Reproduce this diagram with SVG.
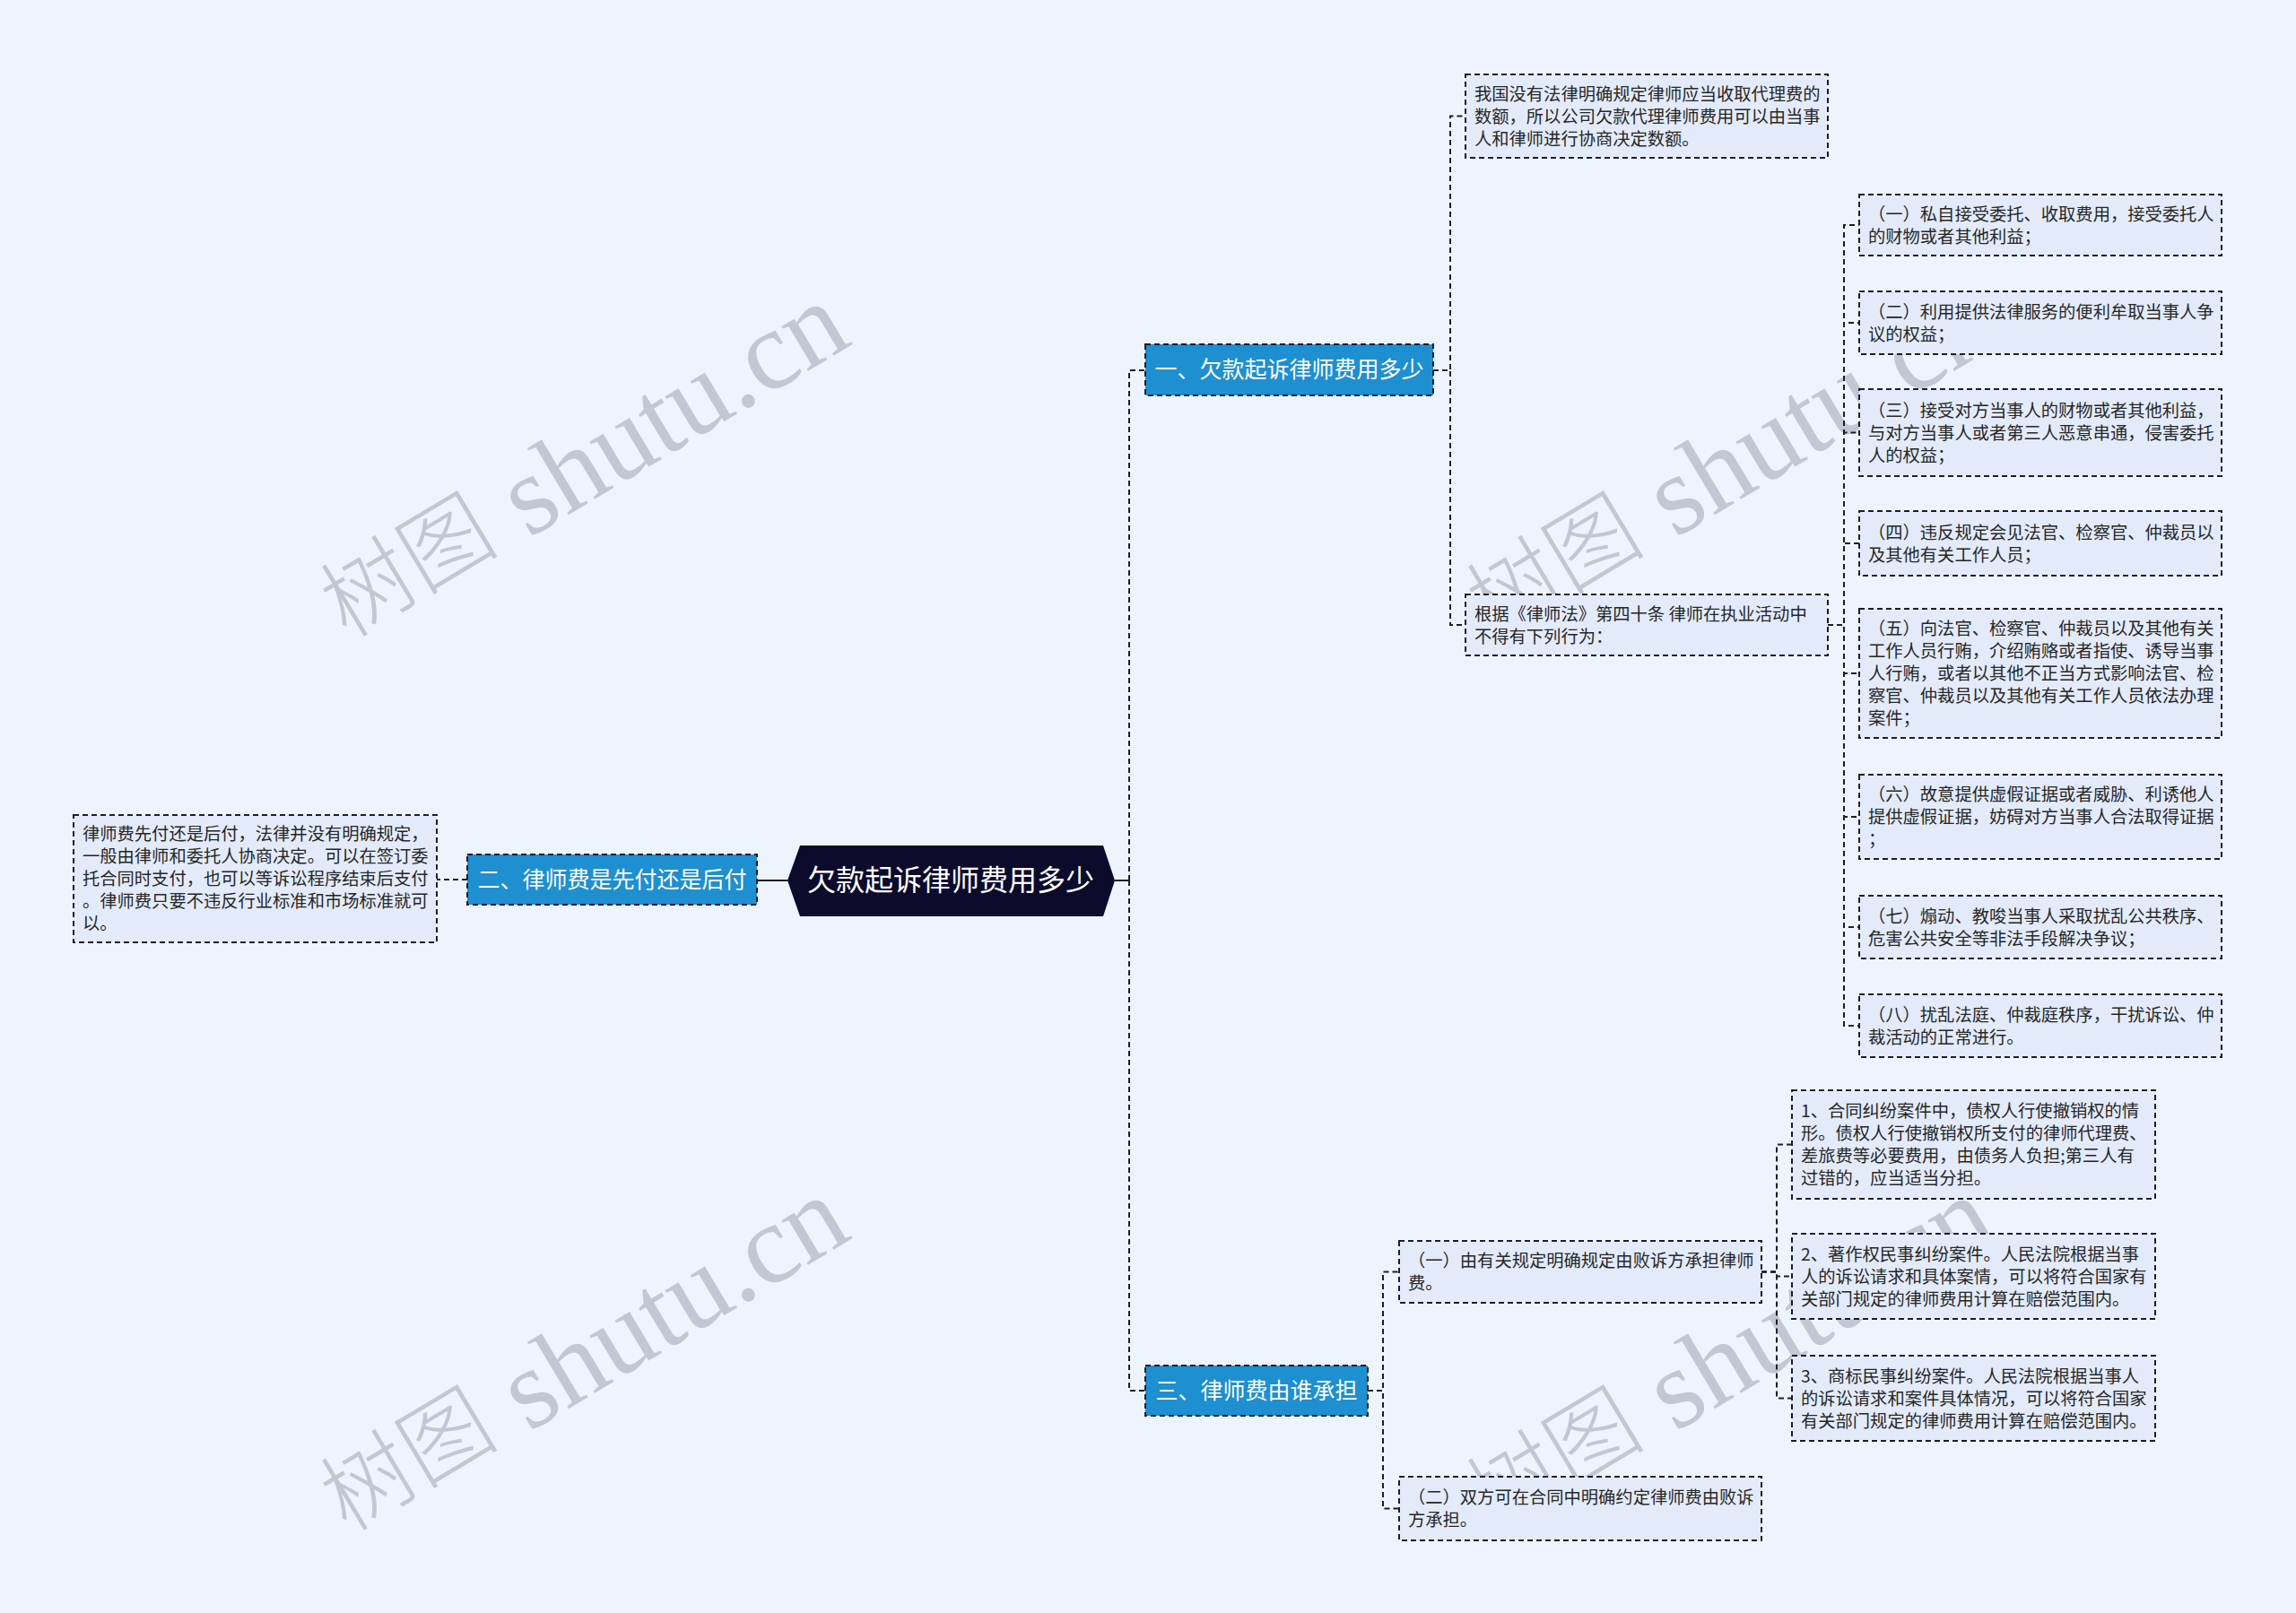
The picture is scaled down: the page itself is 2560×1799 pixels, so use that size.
<svg xmlns="http://www.w3.org/2000/svg" width="2560" height="1799" viewBox="0 0 2560 1799">
<style>
.bg{fill:#eef4fe}
.box{fill:#e3ebfa;stroke:#1c1c2c;stroke-width:2;stroke-dasharray:6 4}
.l1{fill:#1e8fd1;stroke:#1c1c2c;stroke-width:2;stroke-dasharray:6 4}
.t{font-family:"Noto Sans CJK SC","Noto Sans",sans-serif;font-size:19.3px;fill:#262626}
.t1{font-family:"Noto Sans CJK SC","Noto Sans",sans-serif;font-size:25px;fill:#ffffff;text-anchor:middle}
.t0{font-family:"Noto Sans CJK SC","Noto Sans",sans-serif;font-size:32px;fill:#ffffff;text-anchor:middle}
.c{fill:none;stroke:#1c1c2c;stroke-width:2;stroke-dasharray:6 4}
.cs{fill:none;stroke:#1c1c2c;stroke-width:2}
.wm{font-family:"Liberation Serif","Noto Sans CJK SC",serif;font-size:126px;fill:#c2c7d2}
.wmc{font-size:100px;font-weight:300}
</style>
<rect class="bg" x="0" y="0" width="2560" height="1799"/>
<g id="watermarks">
<text class="wm" transform="translate(650,515) rotate(-31)" text-anchor="middle" dominant-baseline="central"><tspan class="wmc">树图</tspan> shutu.cn</text>
<text class="wm" transform="translate(1928,515) rotate(-31)" text-anchor="middle" dominant-baseline="central"><tspan class="wmc">树图</tspan> shutu.cn</text>
<text class="wm" transform="translate(650,1512) rotate(-31)" text-anchor="middle" dominant-baseline="central"><tspan class="wmc">树图</tspan> shutu.cn</text>
<text class="wm" transform="translate(1928,1512) rotate(-31)" text-anchor="middle" dominant-baseline="central"><tspan class="wmc">树图</tspan> shutu.cn</text>
</g>
<g id="connectors">
<path class="cs" d="M1243,982 H1259"/>
<path class="cs" d="M878,982 H844"/>
<path class="c" d="M1259,982 V413 H1277"/>
<path class="c" d="M1259,982 V1551 H1277"/>
<path class="c" d="M521,981 H487"/>
<path class="c" d="M1598,413 H1617 V129.5 H1634"/>
<path class="c" d="M1598,413 H1617 V697 H1634"/>
<path class="c" d="M2038,697 H2056 V251 H2073"/>
<path class="c" d="M2038,697 H2056 V360 H2073"/>
<path class="c" d="M2038,697 H2056 V482.5 H2073"/>
<path class="c" d="M2038,697 H2056 V606 H2073"/>
<path class="c" d="M2038,697 H2056 V751 H2073"/>
<path class="c" d="M2038,697 H2056 V911 H2073"/>
<path class="c" d="M2038,697 H2056 V1034 H2073"/>
<path class="c" d="M2038,697 H2056 V1144 H2073"/>
<path class="c" d="M1525,1551 H1542 V1418.5 H1560"/>
<path class="c" d="M1525,1551 H1542 V1682.5 H1560"/>
<path class="c" d="M1964,1418.5 H1981 V1276.5 H1998"/>
<path class="c" d="M1964,1418.5 H1981 V1423.5 H1998"/>
<path class="c" d="M1964,1418.5 H1981 V1559.5 H1998"/>
</g>
<g id="root">
<polygon points="892,943 1230,943 1243,982 1230,1022 892,1022 878,982" fill="#0c0b2c"/>
<text class="t0" x="1060" y="993">欠款起诉律师费用多少</text>
</g>
<g id="n1">
<rect class="l1" x="1277" y="384" width="321" height="57"/>
<text class="t1" x="1437.5" y="421">一、欠款起诉律师费用多少</text>
</g>
<g id="n2">
<rect class="l1" x="521" y="953" width="323" height="56"/>
<text class="t1" x="682.5" y="990">二、律师费是先付还是后付</text>
</g>
<g id="n3">
<rect class="l1" x="1277" y="1523" width="248" height="56"/>
<text class="t1" x="1401" y="1560">三、律师费由谁承担</text>
</g>
<g id="n1a">
<rect class="box" x="1634" y="83" width="404" height="93"/>
<text class="t"><tspan x="1644" y="111.5">我国没有法律明确规定律师应当收取代理费的</tspan><tspan x="1644" y="136.5">数额，所以公司欠款代理律师费用可以由当事</tspan><tspan x="1644" y="161.5">人和律师进行协商决定数额。</tspan></text>
</g>
<g id="n1b">
<rect class="box" x="1634" y="663" width="404" height="68"/>
<text class="t"><tspan x="1644" y="691.5">根据《律师法》第四十条 律师在执业活动中</tspan><tspan x="1644" y="716.5">不得有下列行为：</tspan></text>
</g>
<g id="n1b1">
<rect class="box" x="2073" y="217" width="404" height="68"/>
<text class="t"><tspan x="2083" y="245.5">（一）私自接受委托、收取费用，接受委托人</tspan><tspan x="2083" y="270.5">的财物或者其他利益；</tspan></text>
</g>
<g id="n1b2">
<rect class="box" x="2073" y="325" width="404" height="70"/>
<text class="t"><tspan x="2083" y="354.5">（二）利用提供法律服务的便利牟取当事人争</tspan><tspan x="2083" y="379.5">议的权益；</tspan></text>
</g>
<g id="n1b3">
<rect class="box" x="2073" y="434" width="404" height="97"/>
<text class="t"><tspan x="2083" y="464.5">（三）接受对方当事人的财物或者其他利益，</tspan><tspan x="2083" y="489.5">与对方当事人或者第三人恶意串通，侵害委托</tspan><tspan x="2083" y="514.5">人的权益；</tspan></text>
</g>
<g id="n1b4">
<rect class="box" x="2073" y="570" width="404" height="72"/>
<text class="t"><tspan x="2083" y="600.5">（四）违反规定会见法官、检察官、仲裁员以</tspan><tspan x="2083" y="625.5">及其他有关工作人员；</tspan></text>
</g>
<g id="n1b5">
<rect class="box" x="2073" y="679" width="404" height="144"/>
<text class="t"><tspan x="2083" y="708">（五）向法官、检察官、仲裁员以及其他有关</tspan><tspan x="2083" y="733">工作人员行贿，介绍贿赂或者指使、诱导当事</tspan><tspan x="2083" y="758">人行贿，或者以其他不正当方式影响法官、检</tspan><tspan x="2083" y="783">察官、仲裁员以及其他有关工作人员依法办理</tspan><tspan x="2083" y="808">案件；</tspan></text>
</g>
<g id="n1b6">
<rect class="box" x="2073" y="864" width="404" height="94"/>
<text class="t"><tspan x="2083" y="893">（六）故意提供虚假证据或者威胁、利诱他人</tspan><tspan x="2083" y="918">提供虚假证据，妨碍对方当事人合法取得证据</tspan><tspan x="2083" y="943">；</tspan></text>
</g>
<g id="n1b7">
<rect class="box" x="2073" y="999" width="404" height="70"/>
<text class="t"><tspan x="2083" y="1028.5">（七）煽动、教唆当事人采取扰乱公共秩序、</tspan><tspan x="2083" y="1053.5">危害公共安全等非法手段解决争议；</tspan></text>
</g>
<g id="n1b8">
<rect class="box" x="2073" y="1109" width="404" height="70"/>
<text class="t"><tspan x="2083" y="1138.5">（八）扰乱法庭、仲裁庭秩序，干扰诉讼、仲</tspan><tspan x="2083" y="1163.5">裁活动的正常进行。</tspan></text>
</g>
<g id="n2a">
<rect class="box" x="82" y="909" width="405" height="142"/>
<text class="t"><tspan x="92" y="937">律师费先付还是后付，法律并没有明确规定，</tspan><tspan x="92" y="962">一般由律师和委托人协商决定。可以在签订委</tspan><tspan x="92" y="987">托合同时支付，也可以等诉讼程序结束后支付</tspan><tspan x="92" y="1012">。律师费只要不违反行业标准和市场标准就可</tspan><tspan x="92" y="1037">以。</tspan></text>
</g>
<g id="n3a">
<rect class="box" x="1560" y="1384" width="404" height="69"/>
<text class="t"><tspan x="1570" y="1413">（一）由有关规定明确规定由败诉方承担律师</tspan><tspan x="1570" y="1438">费。</tspan></text>
</g>
<g id="n3b">
<rect class="box" x="1560" y="1647" width="404" height="71"/>
<text class="t"><tspan x="1570" y="1677">（二）双方可在合同中明确约定律师费由败诉</tspan><tspan x="1570" y="1702">方承担。</tspan></text>
</g>
<g id="n3a1">
<rect class="box" x="1998" y="1216" width="405" height="121"/>
<text class="t"><tspan x="2008" y="1246">1、合同纠纷案件中，债权人行使撤销权的情</tspan><tspan x="2008" y="1271">形。债权人行使撤销权所支付的律师代理费、</tspan><tspan x="2008" y="1296">差旅费等必要费用，由债务人负担;第三人有</tspan><tspan x="2008" y="1321">过错的，应当适当分担。</tspan></text>
</g>
<g id="n3a2">
<rect class="box" x="1998" y="1376" width="405" height="95"/>
<text class="t"><tspan x="2008" y="1405.5">2、著作权民事纠纷案件。人民法院根据当事</tspan><tspan x="2008" y="1430.5">人的诉讼请求和具体案情，可以将符合国家有</tspan><tspan x="2008" y="1455.5">关部门规定的律师费用计算在赔偿范围内。</tspan></text>
</g>
<g id="n3a3">
<rect class="box" x="1998" y="1512" width="405" height="95"/>
<text class="t"><tspan x="2008" y="1541.5">3、商标民事纠纷案件。人民法院根据当事人</tspan><tspan x="2008" y="1566.5">的诉讼请求和案件具体情况，可以将符合国家</tspan><tspan x="2008" y="1591.5">有关部门规定的律师费用计算在赔偿范围内。</tspan></text>
</g>
</svg>
